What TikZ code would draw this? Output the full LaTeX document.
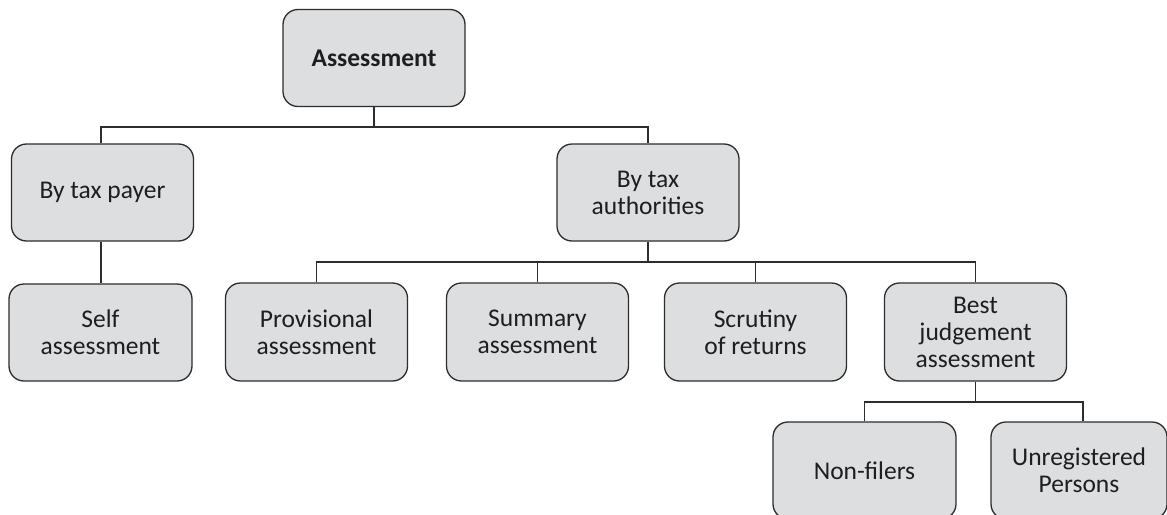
\documentclass[tikz,border=0pt]{standalone}
\usepackage{fontspec}
\setmainfont{Carlito}
\definecolor{boxfill}{RGB}{221,222,224}
\definecolor{boxline}{RGB}{45,45,45}
\definecolor{txt}{RGB}{30,30,30}
\tikzset{
  box/.style={draw=boxline, fill=boxfill, line width=1.3pt, rounded corners=15pt,
    minimum width=182pt, minimum height=97pt, align=center, text=txt,
    font=\fontsize{25.5}{27}\selectfont, inner sep=0pt},
  link/.style={draw=boxline, line width=1.3pt}
}
\begin{document}
\begin{tikzpicture}[x=1pt,y=-1pt]
\useasboundingbox (0,0) rectangle (1167,514);
\clip (0,0) rectangle (1167,514);
\fill[white] (0,0) rectangle (1167,514);
\node[box, font=\fontsize{25.5}{27}\selectfont\bfseries] (A) at (374,58) {Assessment};
\node[box] (P) at (102.5,192.5) {By tax payer};
\node[box] (T) at (648,192.5) {By tax\\authorities};
\node[box, minimum width=183pt] (S) at (100.5,332.5) {Self\\assessment};
\node[box, minimum height=98pt] (Pr) at (316.5,332) {Provisional\\assessment};
\node[box, minimum height=98pt] (Su) at (537.5,332) {Summary\\assessment};
\node[box, minimum height=98pt] (Sc) at (755.5,332) {Scrutiny\\of returns};
\node[box, minimum height=98pt] (B) at (975.5,332) {Best\\judgement\\assessment};
\node[box, minimum width=183pt] (N) at (864.5,470.5) {Non-filers};
\node[box, minimum width=176pt] (U) at (1079,470.5) {Unregistered\\Persons};
\coordinate (b1) at (374,127);
\coordinate (b2) at (648,262);
\coordinate (b3) at (975.5,402);
\draw[link] (A.south) -- (b1);
\draw[link] ([xshift=-1.5pt]P.north) -- ([xshift=-1.5pt]P.north |- b1) -- (T.north |- b1) -- (T.north);
\draw[link] ([xshift=-1.5pt]P.south) -- ([xshift=-1.5pt]P.south |- S.north);
\draw[link] (T.south) -- (b2);
\draw[link] (Pr.north) -- (Pr.north |- b2) -- (B.north |- b2) -- (B.north);
\draw[link] (Su.north) -- (Su.north |- b2);
\draw[link] (Sc.north) -- (Sc.north |- b2);
\draw[link] (B.south) -- (b3);
\draw[link] (N.north) -- (N.north |- b3) -- ([xshift=4pt]U.north |- b3) -- ([xshift=4pt]U.north);
\end{tikzpicture}
\end{document}
